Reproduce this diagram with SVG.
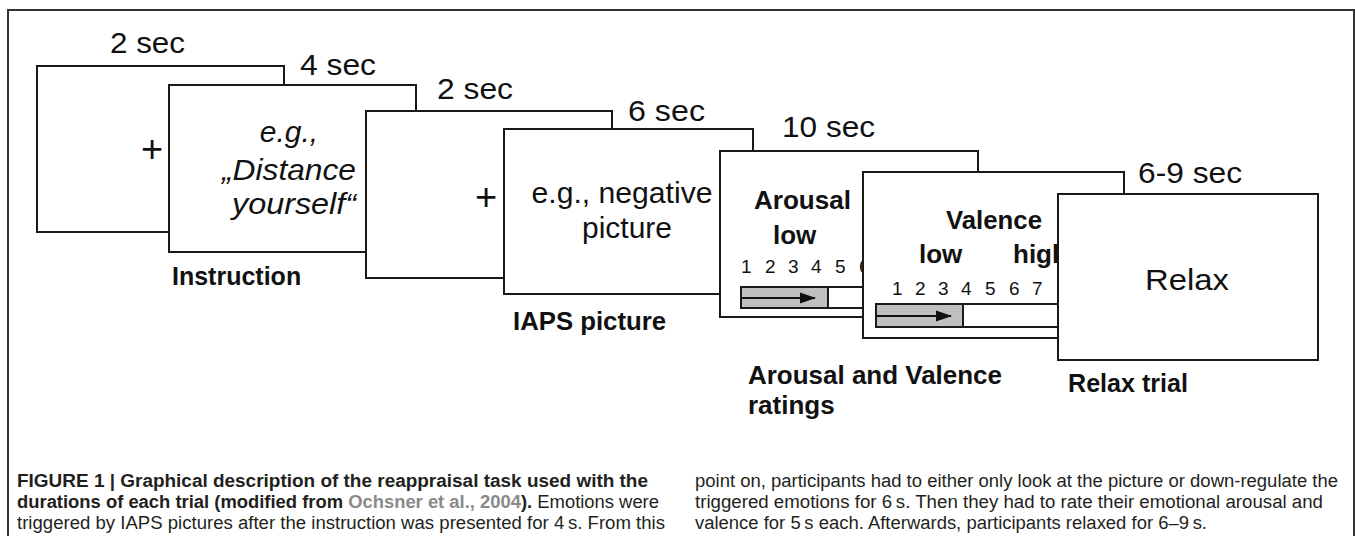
<svg xmlns="http://www.w3.org/2000/svg" width="1355" height="536" viewBox="0 0 1355 536">
<defs>
<style>
.box{fill:#fff;stroke:#1a1a1a;stroke-width:2}
.t{font-family:"Liberation Sans",Arial,sans-serif;fill:#111}
.dur{font-size:30px}
.big{font-size:30px}
.plus{font-size:38px}
.it{font-size:30px;font-style:italic}
.lab{font-size:25px;font-weight:bold}
.hd{font-size:26px;font-weight:bold}
.num{font-size:19px}
.sl{fill:#fff;stroke:#1a1a1a;stroke-width:2}
.fill{fill:#c0c0c0;stroke:#1a1a1a;stroke-width:2}
.arr{stroke:#111;stroke-width:2;fill:none}
.cap{font-family:"Liberation Sans",Arial,sans-serif;font-size:18px;fill:#231f20}
.b{font-weight:bold}
.link{fill:#8a8a8a}
</style>
<marker id="ah" viewBox="0 0 16 14" refX="15" refY="7" markerWidth="16" markerHeight="14" orient="auto" markerUnits="userSpaceOnUse">
<path d="M0,1.5 L16,7 L0,12.5 z" fill="#111"/>
</marker>
</defs>
<rect width="1355" height="536" fill="#fff"/>
<path d="M8,536 V10 H1354 V536" fill="none" stroke="#333" stroke-width="2"/>

<g id="fixation1">
<rect class="box" x="37" y="66" width="247" height="166"/>
<text class="t dur" x="110" y="53" textLength="75" lengthAdjust="spacingAndGlyphs">2 sec</text>
<text class="t plus" x="152" y="162" text-anchor="middle">+</text>
</g>

<g id="instruction">
<rect class="box" x="169" y="85" width="247" height="167"/>
<text class="t dur" x="300" y="75" textLength="76" lengthAdjust="spacingAndGlyphs">4 sec</text>
<text class="t it" x="289" y="142" text-anchor="middle">e.g.,</text>
<text class="t it" x="289" y="180" text-anchor="middle" textLength="134" lengthAdjust="spacingAndGlyphs">„Distance</text>
<text class="t it" x="294" y="214" text-anchor="middle" textLength="124" lengthAdjust="spacingAndGlyphs">yourself“</text>
<text class="t lab" x="172" y="285">Instruction</text>
</g>

<g id="fixation2">
<rect class="box" x="366" y="111" width="246" height="167"/>
<text class="t dur" x="437" y="99" textLength="76" lengthAdjust="spacingAndGlyphs">2 sec</text>
<text class="t plus" x="486" y="210" text-anchor="middle">+</text>
</g>

<g id="iaps">
<rect class="box" x="504" y="129" width="249" height="165"/>
<text class="t dur" x="628" y="121" textLength="77" lengthAdjust="spacingAndGlyphs">6 sec</text>
<text class="t big" x="622" y="203" text-anchor="middle" textLength="181" lengthAdjust="spacingAndGlyphs">e.g., negative</text>
<text class="t big" x="627" y="238" text-anchor="middle" textLength="90" lengthAdjust="spacingAndGlyphs">picture</text>
<text class="t lab" x="513" y="330" textLength="153" lengthAdjust="spacingAndGlyphs">IAPS picture</text>
</g>

<g id="arousal">
<rect class="box" x="720" y="151" width="258" height="166"/>
<text class="t dur" x="782" y="137" textLength="93" lengthAdjust="spacingAndGlyphs">10 sec</text>
<text class="t hd" x="754" y="209" textLength="97" lengthAdjust="spacingAndGlyphs">Arousal</text>
<text class="t hd" x="773" y="244">low</text>
<g class="t num">
<text x="741" y="273">1</text><text x="765" y="273">2</text><text x="788" y="273">3</text><text x="811" y="273">4</text><text x="835" y="273">5</text><text x="859" y="273">6</text>
</g>
<rect class="sl" x="741" y="287" width="160" height="21"/>
<rect class="fill" x="741" y="287" width="87" height="21"/>
<line class="arr" x1="741" y1="298" x2="815" y2="298" marker-end="url(#ah)"/>
<text class="t hd" x="748" y="384" textLength="254" lengthAdjust="spacingAndGlyphs">Arousal and Valence</text>
<text class="t hd" x="748" y="414">ratings</text>
</g>

<g id="valence">
<rect class="box" x="863" y="172" width="261" height="166"/>
<text class="t hd" x="946" y="229" textLength="96" lengthAdjust="spacingAndGlyphs">Valence</text>
<text class="t hd" x="919" y="263">low</text>
<text class="t hd" x="1013" y="263">high</text>
<g class="t num">
<text x="892" y="295">1</text><text x="915" y="295">2</text><text x="938" y="295">3</text><text x="961" y="295">4</text><text x="985" y="295">5</text><text x="1009" y="295">6</text><text x="1032" y="295">7</text>
</g>
<rect class="sl" x="876" y="304" width="220" height="23"/>
<rect class="fill" x="876" y="304" width="87" height="23"/>
<line class="arr" x1="876" y1="316" x2="951" y2="316" marker-end="url(#ah)"/>
</g>

<g id="relax">
<rect class="box" x="1058" y="194" width="260" height="166"/>
<text class="t dur" x="1138" y="183" textLength="104" lengthAdjust="spacingAndGlyphs">6-9 sec</text>
<text class="t big" x="1187" y="290" text-anchor="middle" textLength="84" lengthAdjust="spacingAndGlyphs">Relax</text>
<text class="t lab" x="1068" y="392" textLength="120" lengthAdjust="spacingAndGlyphs">Relax trial</text>
</g>

<g id="caption">
<text class="cap b" x="17" y="487" textLength="631" lengthAdjust="spacingAndGlyphs">FIGURE 1 | Graphical description of the reappraisal task used with the</text>
<text class="cap" x="17" y="508" textLength="642" lengthAdjust="spacingAndGlyphs"><tspan class="b">durations of each trial (modified from </tspan><tspan class="b link">Ochsner et al., 2004</tspan><tspan class="b">).</tspan> Emotions were</text>
<text class="cap" x="17" y="529" textLength="648" lengthAdjust="spacingAndGlyphs">triggered by IAPS pictures after the instruction was presented for 4&#8201;s. From this</text>
<text class="cap" x="695" y="487" textLength="643" lengthAdjust="spacingAndGlyphs">point on, participants had to either only look at the picture or down-regulate the</text>
<text class="cap" x="695" y="508" textLength="628" lengthAdjust="spacingAndGlyphs">triggered emotions for 6&#8201;s. Then they had to rate their emotional arousal and</text>
<text class="cap" x="695" y="529" textLength="512" lengthAdjust="spacingAndGlyphs">valence for 5&#8201;s each. Afterwards, participants relaxed for 6–9&#8201;s.</text>
</g>
</svg>
